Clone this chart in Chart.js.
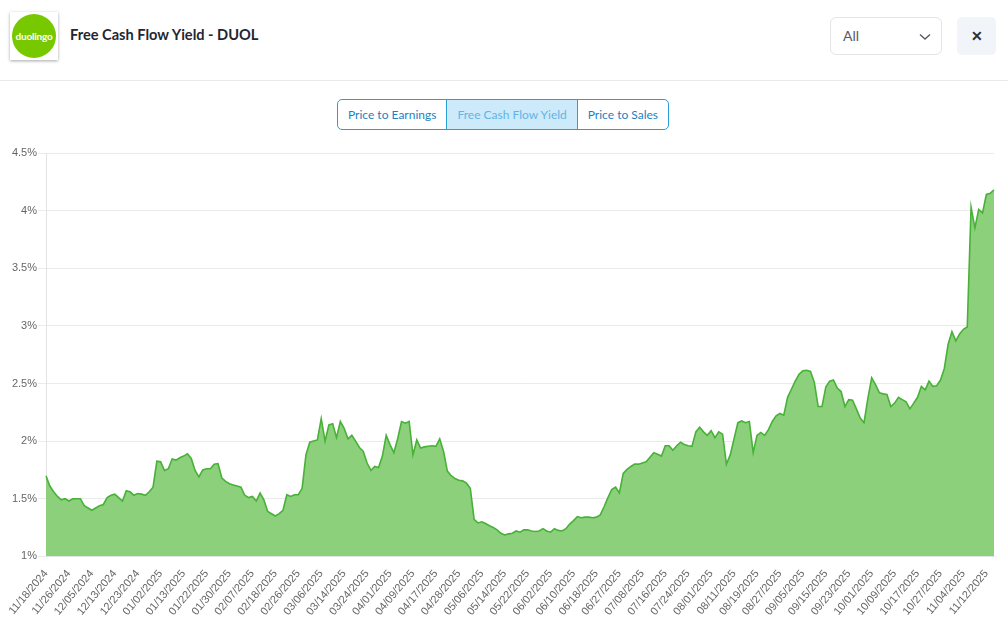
<!DOCTYPE html>
<html>
<head>
<meta charset="utf-8">
<script src="https://cdn.jsdelivr.net/npm/chart.js@4"></script>
<style>
  body { margin: 0; width: 1008px; height: 627px; background: #fff; font-family: Lato, "Open Sans", sans-serif; position: relative; overflow: hidden; }
  .logo { position: absolute; left: 10px; top: 12px; width: 48px; height: 48px; background: #fff; box-shadow: 0 1px 3px rgba(0,0,0,0.35); }
  .logo .dot { position: absolute; left: 2px; top: 2px; width: 44px; height: 44px; border-radius: 50%; background: #78c800; color: #fff; font-weight: bold; font-size: 10px; line-height: 44px; text-align: center; letter-spacing: -0.2px; }
  .title { position: absolute; left: 70px; top: 26px; font-size: 14.6px; font-weight: bold; color: #1f2733; }
  .select { position: absolute; left: 830px; top: 17px; width: 112px; height: 38px; border: 1px solid #e3e5e8; border-radius: 6px; box-sizing: border-box; }
  .select span { position: absolute; left: 12px; top: 9px; font-size: 14px; color: #555b66; }
  .select svg { position: absolute; left: 88px; top: 15px; }
  .close { position: absolute; left: 957px; top: 17px; width: 39px; height: 38px; border-radius: 5px; background: #f1f4f8; text-align: center; line-height: 38px; font-size: 14px; font-weight: bold; color: #2a2f38; }
  .sep { position: absolute; left: 0; top: 80px; width: 1008px; height: 1px; background: #e8e9eb; }
  .tabs { position: absolute; left: 337px; top: 99px; height: 31px; display: flex; border: 1px solid #2a9fd6; border-radius: 5px; overflow: hidden; box-sizing: border-box; }
  .tabs div { font-size: 12px; line-height: 29px; color: #1a82c4; padding: 0 10px; }
  .tabs div + div { border-left: 1px solid #2a9fd6; }
  .tabs .on { background: #cdeafb; color: #62b4e4; }
  #wrap { position: absolute; left: 0; top: 138px; width: 1008px; height: 489px; }
</style>
</head>
<body>
<div class="logo"><div class="dot">duolingo</div></div>
<div class="title">Free Cash Flow Yield - DUOL</div>
<div class="select"><span>All</span><svg width="12" height="8" viewBox="0 0 12 8"><path d="M1 1.5 L6 6 L11 1.5" stroke="#555b66" stroke-width="1.4" fill="none"/></svg></div>
<div class="close">&#x2715;</div>
<div class="sep"></div>
<div class="tabs"><div>Price to Earnings</div><div class="on">Free Cash Flow Yield</div><div>Price to Sales</div></div>
<div id="wrap"><canvas id="myChart" width="1008" height="489"></canvas></div>
<script>
// trading days shown on the x axis
let firstDay = '2024-11-18';
let lastDay = '2025-11-14';
let holidays = ['2024-11-28', '2024-12-25', '2025-01-01', '2025-01-09', '2025-01-20', '2025-02-17',
    '2025-04-18', '2025-05-26', '2025-06-19', '2025-07-04', '2025-09-01'];
let labelEvery = 6;

// free cash flow yield, in percent, one value per trading day
let yieldValues = [
    1.70, 1.61, 1.56, 1.52, 1.49, 1.50, 1.48, 1.50, 1.50, 1.50,
    1.44, 1.42, 1.40, 1.42, 1.44, 1.45, 1.51, 1.53, 1.54, 1.51,
    1.48, 1.57, 1.56, 1.53, 1.545, 1.54, 1.53, 1.56, 1.60, 1.825,
    1.82, 1.745, 1.76, 1.845, 1.835, 1.855, 1.87, 1.89, 1.85, 1.745,
    1.69, 1.75, 1.76, 1.76, 1.80, 1.805, 1.68, 1.65, 1.63, 1.62,
    1.61, 1.60, 1.53, 1.51, 1.52, 1.48, 1.55, 1.49, 1.39, 1.37,
    1.35, 1.37, 1.40, 1.535, 1.52, 1.535, 1.535, 1.59, 1.88, 1.99,
    2.00, 2.01, 2.195, 2.00, 2.14, 2.15, 2.03, 2.17, 2.11, 2.02,
    2.05, 2.00, 1.945, 1.91, 1.81, 1.745, 1.78, 1.77, 1.87, 2.05,
    1.97, 1.90, 2.02, 2.17, 2.155, 2.17, 1.88, 2.01, 1.94, 1.95,
    1.955, 1.96, 1.955, 2.02, 1.91, 1.74, 1.70, 1.675, 1.66, 1.655,
    1.635, 1.59, 1.32, 1.29, 1.30, 1.285, 1.265, 1.25, 1.23, 1.20,
    1.185, 1.195, 1.20, 1.22, 1.21, 1.23, 1.23, 1.22, 1.215, 1.22,
    1.24, 1.22, 1.21, 1.24, 1.225, 1.22, 1.24, 1.28, 1.31, 1.345,
    1.335, 1.34, 1.34, 1.335, 1.34, 1.36, 1.43, 1.51, 1.58, 1.60,
    1.55, 1.72, 1.755, 1.78, 1.80, 1.80, 1.81, 1.82, 1.86, 1.90,
    1.885, 1.87, 1.96, 1.96, 1.92, 1.96, 1.99, 1.97, 1.96, 1.955,
    2.08, 2.12, 2.08, 2.05, 2.09, 2.03, 2.08, 2.06, 1.80, 1.88,
    2.02, 2.16, 2.175, 2.16, 2.17, 1.90, 2.05, 2.075, 2.05, 2.10,
    2.17, 2.22, 2.24, 2.225, 2.38, 2.45, 2.52, 2.58, 2.61, 2.615,
    2.605, 2.51, 2.30, 2.30, 2.47, 2.52, 2.53, 2.46, 2.43, 2.30,
    2.36, 2.355, 2.28, 2.20, 2.16, 2.37, 2.55, 2.49, 2.42, 2.41,
    2.405, 2.30, 2.33, 2.38, 2.36, 2.34, 2.28, 2.33, 2.38, 2.475,
    2.445, 2.52, 2.475, 2.48, 2.53, 2.63, 2.84, 2.95, 2.87, 2.93,
    2.97, 2.99, 4.03, 3.85, 4.01, 3.98, 4.14, 4.15, 4.18
];

let yMin = 1;
let yMax = 4.5;
let yStep = 0.5;

function tradingDays(start, end) {
    let days = [];
    let d = new Date(start + 'T12:00:00Z');
    let stop = new Date(end + 'T12:00:00Z');
    while (d <= stop) {
        let iso = d.toISOString().slice(0, 10);
        let wd = d.getUTCDay();
        if (wd !== 0 && wd !== 6 && !holidays.includes(iso)) {
            days.push(iso.slice(5, 7) + '/' + iso.slice(8, 10) + '/' + iso.slice(0, 4));
        }
        d.setUTCDate(d.getUTCDate() + 1);
    }
    return days;
}

let datas = tradingDays(firstDay, lastDay);

let ctx = document.getElementById('myChart').getContext('2d');
let chart = new Chart(ctx, {
    type: 'line',
    data: {
        labels: datas,
        datasets: [{
            label: 'Free Cash Flow Yield',
            data: yieldValues,
            borderColor: '#47b138',
            backgroundColor: '#8cd07b',
            borderWidth: 1.6,
            pointRadius: 0,
            tension: 0,
            fill: 'start'
        }]
    },
    options: {
        responsive: false,
        animation: false,
        devicePixelRatio: 1,
        layout: { padding: { left: 0, right: 14, top: 15, bottom: 6 } },
        plugins: { legend: { display: false }, tooltip: { enabled: false } },
        scales: {
            x: {
                grid: { display: false },
                border: { color: '#e3e3e3' },
                ticks: {
                    autoSkip: false,
                    minRotation: 50,
                    maxRotation: 50,
                    color: '#666',
                    font: { size: 11 },
                    callback: function (val, idx) {
                        return idx % labelEvery === 0 ? this.getLabelForValue(val) : null;
                    }
                }
            },
            y: {
                min: yMin,
                max: yMax,
                grid: { color: '#ebebeb' },
                border: { color: '#e3e3e3' },
                afterFit: scale => { scale.width = 46; },
                ticks: {
                    stepSize: yStep,
                    padding: 1,
                    color: '#666',
                    font: { size: 11 },
                    callback: v => v + '%'
                }
            }
        }
    }
});
</script>
</body>
</html>
